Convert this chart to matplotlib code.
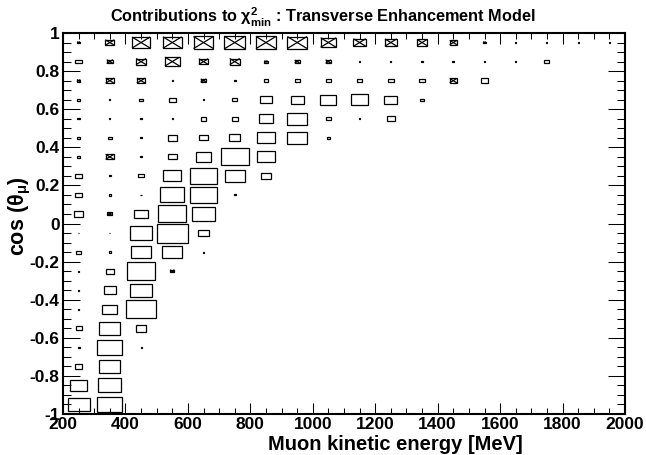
import matplotlib
matplotlib.use('Agg')
import matplotlib.pyplot as plt
from matplotlib.patches import Rectangle
from matplotlib.ticker import MultipleLocator, FixedLocator, FixedFormatter
import numpy as np

plt.rcParams['font.family'] = ['Liberation Sans', 'DejaVu Sans']
plt.rcParams['font.weight'] = 'bold'
plt.rcParams['mathtext.fontset'] = 'custom'
plt.rcParams['mathtext.rm'] = 'Liberation Sans:bold'
plt.rcParams['mathtext.it'] = 'Liberation Sans:italic:bold'
plt.rcParams['mathtext.bf'] = 'Liberation Sans:bold'

# ---------------- data ----------------
energy_centers = [250, 350, 450, 550, 650, 750, 850, 950, 1050,
                  1150, 1250, 1350, 1450, 1550, 1650, 1750, 1850, 1950]
energy_bin = 100.0
cos_centers = [0.95, 0.85, 0.75, 0.65, 0.55, 0.45, 0.35, 0.25, 0.15, 0.05,
               -0.05, -0.15, -0.25, -0.35, -0.45, -0.55, -0.65, -0.75, -0.85, -0.95]
cos_bin = 0.1

# chi2 contributions (relative), negative values drawn as crossed boxes
row_p095 = [-0.09, -0.29, -0.58, -0.60, -0.64, -0.66, -0.64, -0.63, -0.50, -0.40, -0.38, -0.32, -0.23, -0.09, 0.04, 0.03, 0.03, 0.03]
row_p085 = [0.20, -0.20, -0.32, -0.47, -0.30, -0.32, -0.10, -0.16, -0.18, 0.04, 0.04, 0.04, 0.06, 0.03, 0.03, 0.16, 0, 0]
row_p075 = [-0.11, -0.27, -0.27, 0.03, -0.18, 0.05, 0.14, 0.16, 0.18, 0.17, 0.19, 0.17, -0.23, 0.23, 0, 0, 0, 0]
row_p065 = [0.10, 0.04, 0.10, 0.21, 0.04, 0.15, 0.37, 0.41, 0.51, 0.56, 0.41, 0.10, 0, 0, 0, 0, 0, 0]
row_p055 = [0.08, 0.04, 0.04, 0.04, 0.19, 0.19, 0.47, 0.65, 0.18, 0.04, 0.27, 0, 0, 0, 0, 0, 0, 0]
row_p045 = [0.08, 0.12, 0.04, 0.30, 0.26, 0.37, 0.58, 0.63, 0.08, 0, 0, 0, 0, 0, 0, 0, 0, 0]
row_p035 = [0.08, -0.27, 0.04, 0.28, 0.51, 0.89, 0.57, 0, 0, 0, 0, 0, 0, 0, 0, 0, 0, 0]
row_p025 = [0.22, 0.05, 0.17, 0.57, 0.87, 0.63, 0.33, 0, 0, 0, 0, 0, 0, 0, 0, 0, 0, 0]
row_p015 = [0.20, 0.07, 0.04, 0.78, 0.87, 0.06, 0, 0, 0, 0, 0, 0, 0, 0, 0, 0, 0, 0]
row_p005 = [0.28, -0.16, 0.43, 0.89, 0.73, 0, 0, 0, 0, 0, 0, 0, 0, 0, 0, 0, 0, 0]
row_m005 = [0.04, 0.04, 0.73, 1.00, 0.34, 0, 0, 0, 0, 0, 0, 0, 0, 0, 0, 0, 0, 0]
row_m015 = [0.16, 0.07, 0.62, 0.64, 0.05, 0, 0, 0, 0, 0, 0, 0, 0, 0, 0, 0, 0, 0]
row_m025 = [0.05, 0.25, 0.91, -0.14, 0, 0, 0, 0, 0, 0, 0, 0, 0, 0, 0, 0, 0, 0]
row_m035 = [0.05, 0.39, 0.70, 0, 0, 0, 0, 0, 0, 0, 0, 0, 0, 0, 0, 0, 0, 0]
row_m045 = [0.04, 0.48, 0.96, 0, 0, 0, 0, 0, 0, 0, 0, 0, 0, 0, 0, 0, 0, 0]
row_m055 = [0.19, 0.67, 0.34, 0, 0, 0, 0, 0, 0, 0, 0, 0, 0, 0, 0, 0, 0, 0]
row_m065 = [0.07, 0.80, 0.03, 0, 0, 0, 0, 0, 0, 0, 0, 0, 0, 0, 0, 0, 0, 0]
row_m075 = [0.23, 0.68, 0, 0, 0, 0, 0, 0, 0, 0, 0, 0, 0, 0, 0, 0, 0, 0]
row_m085 = [0.55, 0.74, 0, 0, 0, 0, 0, 0, 0, 0, 0, 0, 0, 0, 0, 0, 0, 0]
row_m095 = [0.70, 0.81, 0, 0, 0, 0, 0, 0, 0, 0, 0, 0, 0, 0, 0, 0, 0, 0]

rows = [row_p095, row_p085, row_p075, row_p065, row_p055, row_p045, row_p035,
        row_p025, row_p015, row_p005, row_m005, row_m015, row_m025, row_m035,
        row_m045, row_m055, row_m065, row_m075, row_m085, row_m095]

x_ticks = [200, 400, 600, 800, 1000, 1200, 1400, 1600, 1800, 2000]
y_ticks = [-1, -0.8, -0.6, -0.4, -0.2, 0, 0.2, 0.4, 0.6, 0.8, 1]
y_tick_labels = ['-1', '-0.8', '-0.6', '-0.4', '-0.2', '0', '0.2', '0.4', '0.6', '0.8', '1']

title = r'Contributions to $\mathrm{\chi}^{2}_{\mathrm{min}}$ : Transverse Enhancement Model'
x_title = 'Muon kinetic energy [MeV]'
y_title = r'cos ($\mathrm{\theta}_{\mathrm{\mu}}$)'

# ---------------- figure ----------------
W, H = 646, 455
fig = plt.figure(figsize=(W / 100, H / 100), dpi=100)
ax = fig.add_axes([63 / W, 1 - 414 / H, 562 / W, 381 / H])

vmax = max(abs(v) for r in rows for v in r)
box_lw = 0.9
for yc, r in zip(cos_centers, rows):
    for xc, v in zip(energy_centers, r):
        if v == 0:
            continue
        s = abs(v) / vmax
        w = s * energy_bin
        h = s * cos_bin
        x0, y0 = xc - w / 2, yc - h / 2
        ax.add_patch(Rectangle((x0, y0), w, h, fill=False, ec='black', lw=box_lw))
        if v < 0:
            ax.plot([x0, x0 + w], [y0, y0 + h], color='black', lw=box_lw, solid_capstyle='butt')
            ax.plot([x0, x0 + w], [y0 + h, y0], color='black', lw=box_lw, solid_capstyle='butt')

ax.set_xlim(200, 2000)
ax.set_ylim(-1, 1)
ax.xaxis.set_major_locator(FixedLocator(x_ticks))
ax.xaxis.set_minor_locator(MultipleLocator(50))
ax.yaxis.set_major_locator(FixedLocator(y_ticks))
ax.yaxis.set_major_formatter(FixedFormatter(y_tick_labels))
ax.yaxis.set_minor_locator(MultipleLocator(0.05))

ax.tick_params(which='both', direction='in', top=True, right=True, width=0.75)
ax.tick_params(axis='x', which='major', length=8.2, labelsize=12.5, pad=2.5)
ax.tick_params(axis='x', which='minor', length=4.1)
ax.tick_params(axis='y', which='major', length=12.2, labelsize=12.5, pad=2.5)
ax.tick_params(axis='y', which='minor', length=6.1)
for lab in ax.get_xticklabels() + ax.get_yticklabels():
    lab.set_fontweight('bold')
for sp in ax.spines.values():
    sp.set_linewidth(1.5)

fig.text(0.5, 1 - 17 / H, title, ha='center', va='center', fontsize=11.7, fontweight='bold')
fig.text(523 / W, 1 - 444 / H, x_title, ha='right', va='center', fontsize=14.5, fontweight='bold')
fig.text(20 / W, 1 - 216 / H, y_title, ha='center', va='center', rotation=90, fontsize=15.5, fontweight='bold')

fig.savefig('out.png', dpi=100)
